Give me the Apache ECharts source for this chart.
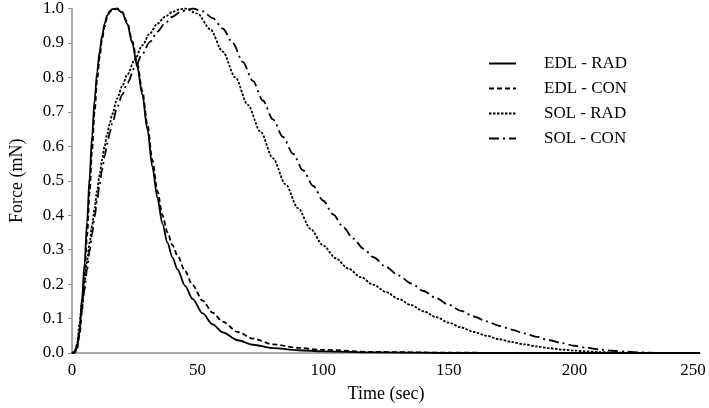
<!DOCTYPE html>
<html>
<head>
<meta charset="utf-8">
<script src="https://cdn.jsdelivr.net/npm/echarts@6/dist/echarts.min.js"></script>
<style>
html,body{margin:0;padding:0;background:#fff;}
#chart{width:709px;height:408px;}
</style>
</head>
<body>
<div id="chart"></div>
<script>
// Data (time in sec, force in mN)
var seriesNames = ['EDL - RAD', 'EDL - CON', 'SOL - RAD', 'SOL - CON'];
var xTicks = [0, 50, 100, 150, 200, 250];
var yTicks = [0.0, 0.1, 0.2, 0.3, 0.4, 0.5, 0.6, 0.7, 0.8, 0.9, 1.0];

var edlRad = [[0,0],[1,0.002],[2,0.02],[3,0.065],[4,0.16],[5,0.26],[6,0.38],[7,0.51],[8,0.63],[9,0.735],[10,0.815],[11,0.875],[12,0.922],[13,0.957],[14,0.979],[15,0.992],[16,0.998],[17.7,1.0],[20,0.988],[22,0.955],[24,0.9],[26,0.83],[28,0.75],[30,0.65],[32,0.54],[34,0.45],[36,0.375],[38,0.32],[40,0.277],[42,0.243],[45,0.195],[48,0.157],[52,0.115],[56,0.083],[60,0.06],[66,0.037],[72,0.024],[80,0.014],[90,0.008],[100,0.005],[120,0.002],[150,0],[250,0]];
var edlCon = [[0,0],[1,0.001],[2,0.012],[3,0.05],[4,0.13],[5,0.23],[6,0.34],[7,0.465],[8,0.59],[9,0.7],[10,0.79],[11,0.858],[12,0.91],[13,0.948],[14,0.974],[15,0.989],[16,0.996],[18,1.0],[20,0.99],[22,0.96],[24,0.905],[26,0.84],[28,0.76],[30,0.665],[32,0.56],[34,0.47],[36,0.4],[38,0.35],[40,0.313],[42,0.283],[45,0.238],[48,0.197],[52,0.152],[56,0.117],[60,0.091],[66,0.061],[72,0.042],[80,0.025],[90,0.015],[100,0.009],[120,0.003],[150,0.001],[180,0],[250,0]];
var solRad = [[0,0],[1,0.003],[2,0.025],[3,0.085],[4,0.15],[5,0.21],[6,0.268],[7,0.32],[8,0.37],[9,0.42],[10,0.47],[11,0.518],[12,0.562],[13,0.601],[14,0.635],[15,0.665],[16,0.693],[18,0.739],[20,0.775],[22,0.808],[25,0.852],[28,0.893],[31,0.928],[34,0.956],[37,0.976],[40,0.99],[43,0.998],[45,1.0],[50,0.985],[55,0.94],[60,0.875],[65,0.8],[70,0.72],[75,0.643],[80,0.565],[85,0.49],[90,0.42],[95,0.36],[100,0.312],[105,0.275],[110,0.245],[115,0.22],[120,0.198],[125,0.177],[130,0.157],[135,0.139],[140,0.121],[145,0.104],[150,0.088],[155,0.074],[160,0.061],[165,0.05],[170,0.04],[175,0.032],[180,0.025],[185,0.019],[190,0.014],[195,0.01],[200,0.007],[205,0.0045],[210,0.0028],[215,0.0015],[220,0.0007],[225,0.0002],[230,0],[250,0]];
var solCon = [[0,0],[1,0.002],[2,0.015],[3,0.06],[4,0.125],[5,0.185],[6,0.243],[7,0.296],[8,0.346],[9,0.395],[10,0.443],[11,0.49],[12,0.533],[13,0.572],[14,0.607],[15,0.638],[16,0.666],[18,0.713],[20,0.75],[22,0.783],[25,0.828],[28,0.868],[31,0.903],[34,0.933],[37,0.957],[40,0.976],[43,0.989],[46,0.997],[48,1.0],[52,0.992],[56,0.972],[60,0.942],[64,0.9],[68,0.845],[72,0.79],[76,0.733],[80,0.678],[84,0.627],[88,0.578],[92,0.53],[96,0.485],[100,0.442],[104,0.402],[108,0.365],[112,0.332],[116,0.303],[120,0.278],[125,0.25],[130,0.225],[135,0.202],[140,0.18],[145,0.159],[150,0.14],[155,0.122],[160,0.106],[165,0.092],[170,0.079],[175,0.068],[180,0.057],[185,0.047],[190,0.037],[195,0.029],[200,0.021],[205,0.015],[210,0.01],[215,0.0065],[220,0.004],[225,0.002],[230,0.0008],[235,0.0002],[240,0],[250,0]];

var lineTypes = ['solid', [5,3], [2.5,1.5], [10,4,2,4]];
var dataSets = [edlRad, edlCon, solRad, solCon];

var chart = echarts.init(document.getElementById('chart'), null, {renderer: 'canvas'});
var font = 'Liberation Serif';
var series = seriesNames.map(function (n, i) {
  return {
    name: n,
    type: 'line',
    data: dataSets[i],
    showSymbol: false,
    symbol: 'none',
    smooth: 0.3,
    smoothMonotone: 'x',
    lineStyle: {color: '#000', width: 1.8, type: lineTypes[i]},
    itemStyle: {color: '#000'},
    z: 4 - i
  };
});

chart.setOption({
  animation: false,
  backgroundColor: '#fff',
  grid: {left: 66, right: 9, top: 8.5, bottom: 54},
  legend: {
    orient: 'vertical',
    left: 483,
    top: 50,
    itemWidth: 27,
    itemHeight: 10,
    itemGap: 8,
    itemStyle: {opacity: 0},
    data: seriesNames,
    textStyle: {fontFamily: font, fontSize: 17, color: '#000', padding: [0, 0, 0, 23]}
  },
  xAxis: {
    type: 'value',
    min: 0, max: 250, interval: 50,
    name: 'Time (sec)',
    nameLocation: 'middle',
    nameGap: 32,
    nameTextStyle: {fontFamily: font, fontSize: 18, color: '#000'},
    axisLine: {lineStyle: {color: '#8c8c8c', width: 1.5}},
    axisTick: {show: false},
    splitLine: {show: false},
    axisLabel: {fontFamily: font, fontSize: 17, color: '#000', margin: 9,
      formatter: function (v) {
        if (v === 250) return '{m|250}';
        return xTicks.indexOf(v) >= 0 ? String(v) : '';
      },
      rich: {m: {fontFamily: font, fontSize: 17, color: '#000', padding: [0, 14, 0, 0]}}
    }
  },
  yAxis: {
    type: 'value',
    min: 0, max: 1, interval: 0.1,
    name: 'Force (mN)',
    nameLocation: 'middle',
    nameGap: 46,
    nameRotate: 90,
    nameTextStyle: {fontFamily: font, fontSize: 18, color: '#000'},
    axisLine: {show: true, lineStyle: {color: '#8c8c8c', width: 1.5}},
    axisTick: {show: true, length: 4, lineStyle: {color: '#8c8c8c'}},
    splitLine: {show: false},
    axisLabel: {fontFamily: font, fontSize: 17, color: '#000', margin: 8,
      formatter: function (v) {
        var t = yTicks.filter(function (y) { return Math.abs(y - v) < 1e-6; });
        return t.length ? t[0].toFixed(1) : '';
      }}
  },
  series: series
});
</script>
</body>
</html>
